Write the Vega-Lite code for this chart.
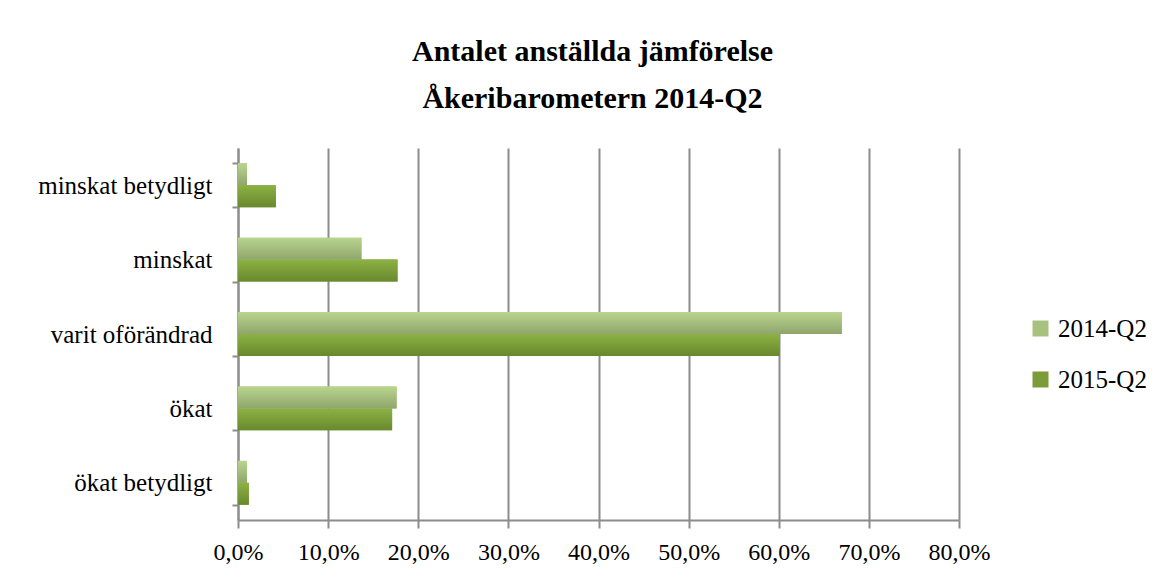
{
  "$schema": "https://vega.github.io/schema/vega-lite/v6.json",
  "autosize": "none",
  "width": 721,
  "height": 372,
  "padding": {"left": 238, "top": 148, "right": 206, "bottom": 58},
  "background": "white",
  "title": {
    "text": ["Antalet anställda jämförelse", "Åkeribarometern 2014-Q2"],
    "font": "Liberation Serif",
    "fontSize": 30,
    "fontWeight": "bold",
    "color": "#000000",
    "lineHeight": 47,
    "anchor": "middle",
    "frame": "group",
    "dx": -6,
    "offset": 22
  },
  "data": {
    "values": [
      {"kategori": "minskat betydligt", "serie": "2014-Q2", "andel": 0.010},
      {"kategori": "minskat betydligt", "serie": "2015-Q2", "andel": 0.042},
      {"kategori": "minskat", "serie": "2014-Q2", "andel": 0.137},
      {"kategori": "minskat", "serie": "2015-Q2", "andel": 0.177},
      {"kategori": "varit oförändrad", "serie": "2014-Q2", "andel": 0.670},
      {"kategori": "varit oförändrad", "serie": "2015-Q2", "andel": 0.601},
      {"kategori": "ökat", "serie": "2014-Q2", "andel": 0.176},
      {"kategori": "ökat", "serie": "2015-Q2", "andel": 0.171},
      {"kategori": "ökat betydligt", "serie": "2014-Q2", "andel": 0.010},
      {"kategori": "ökat betydligt", "serie": "2015-Q2", "andel": 0.012}
    ]
  },
  "encoding": {
    "y": {
      "field": "kategori",
      "type": "nominal",
      "sort": ["minskat betydligt", "minskat", "varit oförändrad", "ökat", "ökat betydligt"],
      "scale": {"paddingInner": 0.41, "paddingOuter": 0.205},
      "axis": {
        "title": null,
        "labelFont": "Liberation Serif",
        "labelFontSize": 25,
        "labelLimit": 0,
        "labelColor": "#000000",
        "labelPadding": 20,
        "tickBand": "extent",
        "tickSize": 6,
        "tickColor": "#8c8c8c",
        "tickWidth": 2,
        "domainColor": "#8c8c8c",
        "domainWidth": 2,
        "grid": false
      }
    },
    "yOffset": {
      "field": "serie",
      "type": "nominal",
      "scale": {"domain": ["2014-Q2", "2015-Q2"]}
    },
    "x": {
      "field": "andel",
      "type": "quantitative",
      "scale": {"domain": [0, 0.8], "nice": false},
      "axis": {
        "title": null,
        "values": [0, 0.1, 0.2, 0.3, 0.4, 0.5, 0.6, 0.7, 0.8],
        "labelExpr": "replace(format(datum.value, '.1%'), '.', ',')",
        "labelFont": "Liberation Serif",
        "labelFontSize": 24,
        "labelColor": "#000000",
        "labelPadding": 12,
        "labelFlush": false,
        "labelOverlap": false,
        "tickSize": 8,
        "tickColor": "#8c8c8c",
        "tickWidth": 2,
        "domainColor": "#8c8c8c",
        "domainWidth": 2,
        "grid": true,
        "gridColor": "#8c8c8c",
        "gridWidth": 2
      }
    }
  },
  "layer": [
    {
      "mark": {"type": "bar"},
      "encoding": {
        "color": {
          "field": "serie",
          "type": "nominal",
          "scale": {"domain": ["2014-Q2", "2015-Q2"], "range": ["#a8c27e", "#7b9d38"]},
          "legend": {
            "title": null,
            "orient": "none",
            "legendX": 790,
            "legendY": 168,
            "symbolType": "square",
            "symbolSize": 256,
            "symbolStrokeWidth": 0,
            "labelFont": "Liberation Serif",
            "labelFontSize": 25,
            "labelColor": "#000000",
            "labelOffset": 5,
            "rowPadding": 25,
            "padding": 0
          }
        }
      }
    },
    {
      "transform": [{"filter": "datum.serie === '2014-Q2'"}],
      "mark": {
        "type": "bar",
        "color": {
          "gradient": "linear", "x1": 0, "y1": 0, "x2": 0, "y2": 1,
          "stops": [{"offset": 0, "color": "#b9d58e"}, {"offset": 1, "color": "#8fa56c"}]
        }
      }
    },
    {
      "transform": [{"filter": "datum.serie === '2015-Q2'"}],
      "mark": {
        "type": "bar",
        "color": {
          "gradient": "linear", "x1": 0, "y1": 0, "x2": 0, "y2": 1,
          "stops": [{"offset": 0, "color": "#8cb244"}, {"offset": 1, "color": "#68882d"}]
        }
      }
    }
  ],
  "config": {
    "view": {"stroke": null}
  }
}
